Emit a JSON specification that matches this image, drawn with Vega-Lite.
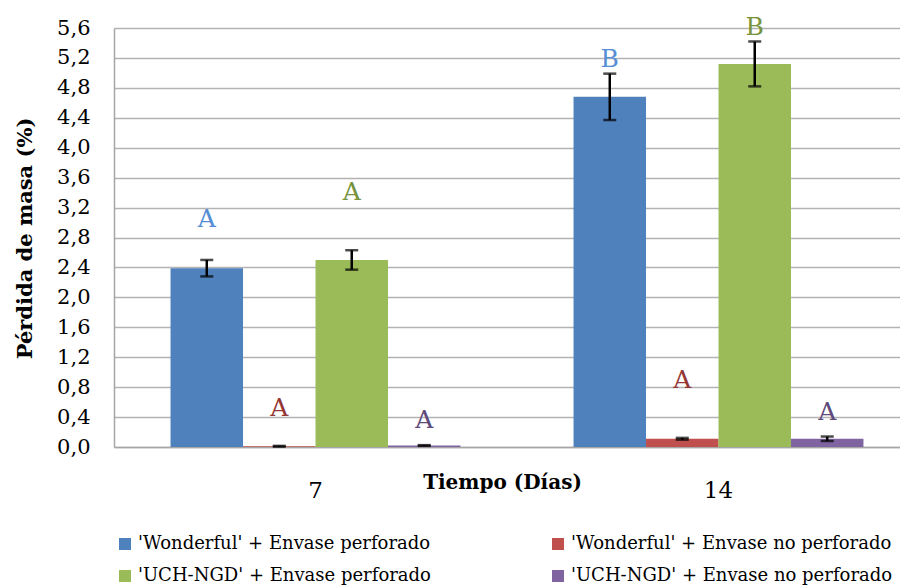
{
  "$schema": "https://vega.github.io/schema/vega-lite/v6.json",
  "width": 806,
  "height": 419,
  "autosize": {"type": "none"},
  "padding": {"left": 114, "top": 28, "right": 0, "bottom": 141},
  "background": "white",
  "data": {
    "values": [
      {"dia": "7", "serie": "'Wonderful' + Envase perforado", "perdida": 2.39, "err": 0.11, "letra": "A", "letra_y": 3.05},
      {"dia": "7", "serie": "'Wonderful' + Envase no perforado", "perdida": 0.01, "err": 0.005, "letra": "A", "letra_y": 0.52},
      {"dia": "7", "serie": "'UCH-NGD' + Envase perforado", "perdida": 2.5, "err": 0.13, "letra": "A", "letra_y": 3.41},
      {"dia": "7", "serie": "'UCH-NGD' + Envase no perforado", "perdida": 0.02, "err": 0.005, "letra": "A", "letra_y": 0.36},
      {"dia": "14", "serie": "'Wonderful' + Envase perforado", "perdida": 4.68, "err": 0.31, "letra": "B", "letra_y": 5.19},
      {"dia": "14", "serie": "'Wonderful' + Envase no perforado", "perdida": 0.11, "err": 0.012, "letra": "A", "letra_y": 0.9},
      {"dia": "14", "serie": "'UCH-NGD' + Envase perforado", "perdida": 5.12, "err": 0.3, "letra": "B", "letra_y": 5.61},
      {"dia": "14", "serie": "'UCH-NGD' + Envase no perforado", "perdida": 0.11, "err": 0.03, "letra": "A", "letra_y": 0.47}
    ]
  },
  "encoding": {
    "x": {
      "field": "dia", "type": "nominal", "sort": ["7", "14"],
      "scale": {"paddingInner": 0, "paddingOuter": 0},
      "axis": {
        "title": "Tiempo (Días)", "titleFont": "DejaVu Serif", "titleFontSize": 20, "titleFontWeight": "bold", "titleColor": "black",
        "titleX": 388, "titleY": 25, "titleBaseline": "top",
        "labelFont": "DejaVu Serif", "labelFontSize": 23, "labelColor": "black", "labelAngle": 0, "labelPadding": 32,
        "ticks": false, "domainColor": "#a6a6a6", "domainWidth": 1.5, "grid": false
      }
    },
    "xOffset": {
      "field": "serie", "type": "nominal",
      "sort": ["'Wonderful' + Envase perforado", "'Wonderful' + Envase no perforado", "'UCH-NGD' + Envase perforado", "'UCH-NGD' + Envase no perforado"],
      "scale": {"paddingInner": 0, "paddingOuter": 0.78}
    }
  },
  "layer": [
    {
      "mark": {"type": "bar"},
      "encoding": {
        "y": {
          "field": "perdida", "type": "quantitative",
          "scale": {"domain": [0, 5.6], "nice": false},
          "axis": {
            "title": "Pérdida de masa (%)", "titleFont": "DejaVu Serif", "titleFontSize": 21, "titleFontWeight": "bold", "titleColor": "black",
            "titleX": -89, "titleY": 210, "titleAngle": -90, "titleBaseline": "middle", "titleAlign": "center",
            "values": [0, 0.4, 0.8, 1.2, 1.6, 2.0, 2.4, 2.8, 3.2, 3.6, 4.0, 4.4, 4.8, 5.2, 5.6],
            "labelExpr": "replace(format(datum.value, '.1f'), '.', ',')",
            "labelOverlap": false, "labelBound": false, "labelFlush": false,
            "labelFont": "DejaVu Serif", "labelFontSize": 21, "labelColor": "black", "labelPadding": 24,
            "ticks": false, "domainColor": "#a6a6a6", "domainWidth": 1.5,
            "grid": true, "gridColor": "#b3b3b3", "gridWidth": 1.5
          }
        },
        "color": {
          "field": "serie", "type": "nominal",
          "sort": ["'Wonderful' + Envase perforado", "'Wonderful' + Envase no perforado", "'UCH-NGD' + Envase perforado", "'UCH-NGD' + Envase no perforado"],
          "scale": {"range": ["#4f81bd", "#c0504d", "#9bbb59", "#8064a2"]},
          "legend": {
            "title": null, "orient": "none", "legendX": 2, "legendY": 507, "columns": 2, "columnPadding": 118, "rowPadding": 14,
            "symbolType": "square", "symbolSize": 144, "symbolStrokeWidth": 0, "symbolOffset": 0,
            "labelFont": "DejaVu Serif", "labelFontSize": 18, "labelColor": "black", "labelLimit": 500, "labelOffset": 4,
            "direction": "horizontal"
          }
        }
      }
    },
    {
      "mark": {"type": "rule", "color": "black", "strokeWidth": 2.5},
      "encoding": {
        "y": {
          "field": "lo", "type": "quantitative",
          "axis": {
            "title": "Pérdida de masa (%)", "titleFont": "DejaVu Serif", "titleFontSize": 21, "titleFontWeight": "bold", "titleColor": "black",
            "titleX": -89, "titleY": 210, "titleAngle": -90, "titleBaseline": "middle", "titleAlign": "center",
            "values": [0, 0.4, 0.8, 1.2, 1.6, 2.0, 2.4, 2.8, 3.2, 3.6, 4.0, 4.4, 4.8, 5.2, 5.6],
            "labelExpr": "replace(format(datum.value, '.1f'), '.', ',')",
            "labelOverlap": false, "labelBound": false, "labelFlush": false,
            "labelFont": "DejaVu Serif", "labelFontSize": 21, "labelColor": "black", "labelPadding": 24,
            "ticks": false, "domainColor": "#a6a6a6", "domainWidth": 1.5,
            "grid": true, "gridColor": "#b3b3b3", "gridWidth": 1.5
          }
        },
        "y2": {"field": "hi"}
      },
      "transform": [{"calculate": "datum.perdida - datum.err", "as": "lo"}, {"calculate": "datum.perdida + datum.err", "as": "hi"}]
    },
    {
      "mark": {"type": "tick", "color": "black", "thickness": 2.5, "size": 13, "orient": "horizontal"},
      "transform": [{"calculate": "datum.perdida - datum.err", "as": "lo"}],
      "encoding": {
        "y": {
          "field": "lo", "type": "quantitative",
          "axis": {
            "title": "Pérdida de masa (%)", "titleFont": "DejaVu Serif", "titleFontSize": 21, "titleFontWeight": "bold", "titleColor": "black",
            "titleX": -89, "titleY": 210, "titleAngle": -90, "titleBaseline": "middle", "titleAlign": "center",
            "values": [0, 0.4, 0.8, 1.2, 1.6, 2.0, 2.4, 2.8, 3.2, 3.6, 4.0, 4.4, 4.8, 5.2, 5.6],
            "labelExpr": "replace(format(datum.value, '.1f'), '.', ',')",
            "labelOverlap": false, "labelBound": false, "labelFlush": false,
            "labelFont": "DejaVu Serif", "labelFontSize": 21, "labelColor": "black", "labelPadding": 24,
            "ticks": false, "domainColor": "#a6a6a6", "domainWidth": 1.5,
            "grid": true, "gridColor": "#b3b3b3", "gridWidth": 1.5
          }
        }
      }
    },
    {
      "mark": {"type": "tick", "color": "black", "thickness": 2.5, "size": 13, "orient": "horizontal"},
      "transform": [{"calculate": "datum.perdida + datum.err", "as": "hi"}],
      "encoding": {
        "y": {
          "field": "hi", "type": "quantitative",
          "axis": {
            "title": "Pérdida de masa (%)", "titleFont": "DejaVu Serif", "titleFontSize": 21, "titleFontWeight": "bold", "titleColor": "black",
            "titleX": -89, "titleY": 210, "titleAngle": -90, "titleBaseline": "middle", "titleAlign": "center",
            "values": [0, 0.4, 0.8, 1.2, 1.6, 2.0, 2.4, 2.8, 3.2, 3.6, 4.0, 4.4, 4.8, 5.2, 5.6],
            "labelExpr": "replace(format(datum.value, '.1f'), '.', ',')",
            "labelOverlap": false, "labelBound": false, "labelFlush": false,
            "labelFont": "DejaVu Serif", "labelFontSize": 21, "labelColor": "black", "labelPadding": 24,
            "ticks": false, "domainColor": "#a6a6a6", "domainWidth": 1.5,
            "grid": true, "gridColor": "#b3b3b3", "gridWidth": 1.5
          }
        }
      }
    },
    {
      "mark": {"type": "text", "font": "DejaVu Serif", "fontSize": 25, "baseline": "middle", "align": "center"},
      "encoding": {
        "y": {
          "field": "letra_y", "type": "quantitative",
          "axis": {
            "title": "Pérdida de masa (%)", "titleFont": "DejaVu Serif", "titleFontSize": 21, "titleFontWeight": "bold", "titleColor": "black",
            "titleX": -89, "titleY": 210, "titleAngle": -90, "titleBaseline": "middle", "titleAlign": "center",
            "values": [0, 0.4, 0.8, 1.2, 1.6, 2.0, 2.4, 2.8, 3.2, 3.6, 4.0, 4.4, 4.8, 5.2, 5.6],
            "labelExpr": "replace(format(datum.value, '.1f'), '.', ',')",
            "labelOverlap": false, "labelBound": false, "labelFlush": false,
            "labelFont": "DejaVu Serif", "labelFontSize": 21, "labelColor": "black", "labelPadding": 24,
            "ticks": false, "domainColor": "#a6a6a6", "domainWidth": 1.5,
            "grid": true, "gridColor": "#b3b3b3", "gridWidth": 1.5
          }
        },
        "text": {"field": "letra"},
        "color": {
          "field": "serie", "type": "nominal",
          "sort": ["'Wonderful' + Envase perforado", "'Wonderful' + Envase no perforado", "'UCH-NGD' + Envase perforado", "'UCH-NGD' + Envase no perforado"],
          "scale": {"range": ["#558ed5", "#953735", "#77933c", "#604a7b"]},
          "legend": null
        }
      }
    }
  ],
  "resolve": {"scale": {"color": "independent"}},
  "config": {"view": {"stroke": null}}
}
